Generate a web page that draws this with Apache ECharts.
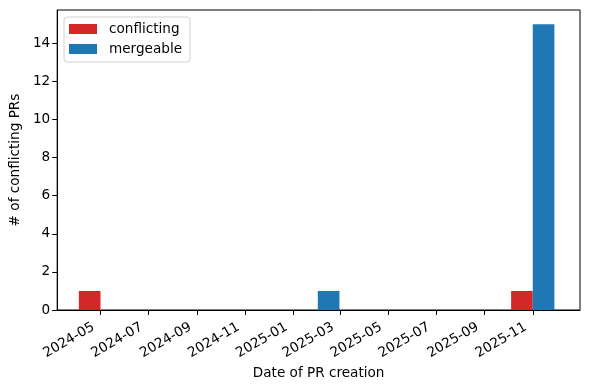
<!DOCTYPE html>
<html><head><meta charset="utf-8">
<script src="https://cdn.jsdelivr.net/npm/echarts@6/dist/echarts.min.js"></script>
<style>html,body{margin:0;padding:0;background:#fff}#c{width:590px;height:390px}</style>
</head><body><div id="c"></div>
<script>
const conflictingDates = ['2024-05-01', '2025-11-01'];
const conflictingValues = [1, 1];
const mergeableDates = ['2025-02-01', '2025-11-01'];
const mergeableValues = [1, 15];
const xTickLabels = ['2024-05','2024-07','2024-09','2024-11','2025-01','2025-03','2025-05','2025-07','2025-09','2025-11'];
const yTickLabels = [0, 2, 4, 6, 8, 10, 12, 14];

const DAY = 86400000;
const BAR_DAYS = 27.5;
const ts = s => Date.parse(s + 'T00:00:00Z');
const FONT = 'DejaVu Sans';
const FS = 13.6;
const xTickValues = xTickLabels.map(s => ts(s + '-01'));

function mkRender(dir) {
  return function (params, api) {
    const t = api.value(0), v = api.value(1);
    const a = dir < 0 ? t - BAR_DAYS * DAY : t;
    const b = dir < 0 ? t : t + BAR_DAYS * DAY;
    const p0 = api.coord([a, 0]);
    const p1 = api.coord([b, v]);
    return {
      type: 'rect',
      shape: { x: p0[0], y: p1[1], width: p1[0] - p0[0], height: p0[1] - p1[1] },
      style: { fill: api.visual('color') }
    };
  };
}

const chart = echarts.init(document.getElementById('c'), null, { renderer: 'canvas' });
chart.setOption({
  animation: false,
  textStyle: { fontFamily: FONT, color: '#000' },
  grid: { left: 57, right: 10, top: 10, bottom: 80, show: true, borderColor: '#000', borderWidth: 1, backgroundColor: 'transparent' },
  legend: {
    orient: 'vertical', left: 64, top: 17,
    data: [{ name: 'conflicting', icon: 'rect' }, { name: 'mergeable', icon: 'rect' }],
    itemWidth: 28, itemHeight: 10, itemGap: 4,
    padding: [4, 8, 5, 5],
    borderColor: '#d0d0d0', borderWidth: 1, borderRadius: 3,
    backgroundColor: 'rgba(255,255,255,0.8)',
    textStyle: { fontFamily: FONT, fontSize: FS, color: '#000', lineHeight: 16, padding: [0, 0, 0, 7] }
  },
  xAxis: {
    type: 'value',
    min: ts('2024-03-07'), max: ts('2025-12-31'),
    name: 'Date of PR creation', nameLocation: 'middle', nameGap: 56,
    nameTextStyle: { fontFamily: FONT, fontSize: FS, color: '#000' },
    axisLine: { show: true, onZero: false, lineStyle: { color: '#000', width: 1 } },
    axisTick: { show: true, length: 5, lineStyle: { color: '#000' }, customValues: xTickValues },
    axisLabel: {
      rotate: 30, margin: 12, fontFamily: FONT, fontSize: FS, color: '#000',
      padding: [0, 8, 0, 0],
      customValues: xTickValues,
      formatter: v => { const d = new Date(v); return d.getUTCFullYear() + '-' + String(d.getUTCMonth() + 1).padStart(2, '0'); }
    },
    splitLine: { show: false }
  },
  yAxis: {
    type: 'value', min: 0, max: 15.75,
    name: '# of conflicting PRs', nameLocation: 'middle', nameGap: 34,
    nameTextStyle: { fontFamily: FONT, fontSize: FS, color: '#000' },
    axisLine: { show: true, lineStyle: { color: '#000', width: 1 } },
    axisTick: { show: true, length: 5, lineStyle: { color: '#000' }, customValues: yTickLabels },
    axisLabel: { margin: 7, fontFamily: FONT, fontSize: FS, color: '#000', customValues: yTickLabels },
    splitLine: { show: false }
  },
  series: [
    {
      name: 'conflicting', type: 'custom', itemStyle: { color: '#d62728' },
      encode: { x: 0, y: 1 },
      data: conflictingDates.map((d, i) => [ts(d), conflictingValues[i]]),
      renderItem: mkRender(-1)
    },
    {
      name: 'mergeable', type: 'custom', itemStyle: { color: '#1f77b4' },
      encode: { x: 0, y: 1 },
      data: mergeableDates.map((d, i) => [ts(d), mergeableValues[i]]),
      renderItem: mkRender(1)
    }
  ]
});
</script>
</body></html>
